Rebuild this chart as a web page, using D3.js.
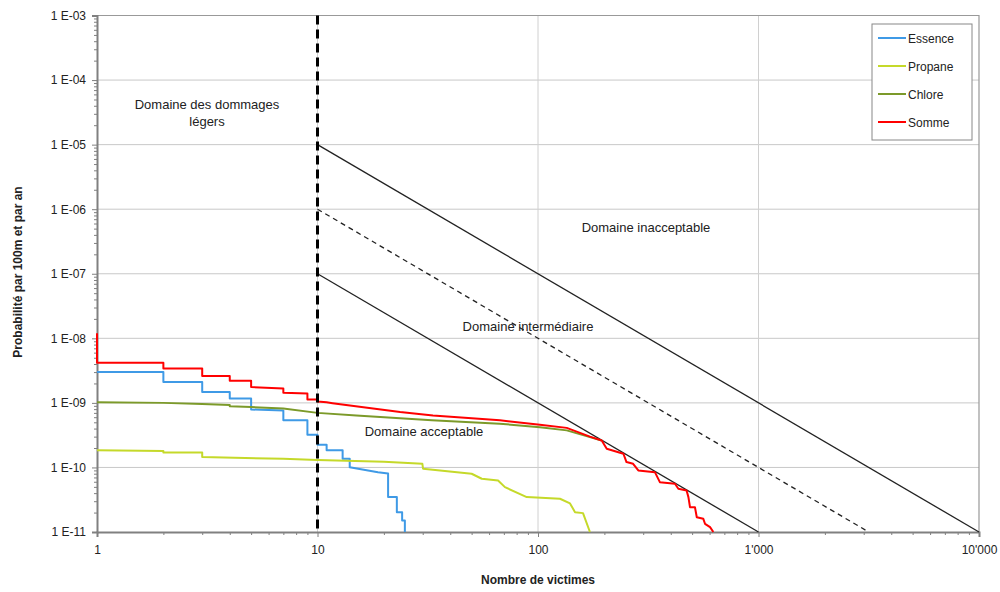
<!DOCTYPE html>
<html>
<head>
<meta charset="utf-8">
<script src="https://cdn.jsdelivr.net/npm/d3@7/dist/d3.min.js"></script>
<style>
  body { margin: 0; background: #fff; }
  svg { font-family: "Liberation Sans", Arial, sans-serif; }
</style>
</head>
<body>
<div id="vis"></div>
<script>
// F-N curve vertices (N = number of victims, F = probability per 100m and year)
var essN = [1, 2, 2, 3, 3, 4, 4, 5, 5, 7, 7, 9, 9, 10, 10, 11, 11, 13, 13, 14, 14, 18.8, 20.9, 20.9, 22.9, 22.9, 24.2, 24.2, 24.9, 24.9];
var essF = [3.0e-9, 3.0e-9, 2.1e-9, 2.1e-9, 1.47e-9, 1.47e-9, 1.17e-9, 1.17e-9, 7.9e-10, 7.6e-10, 5.4e-10, 5.4e-10, 3.2e-10, 3.2e-10,
  2.25e-10, 2.25e-10, 1.84e-10, 1.84e-10, 1.36e-10, 1.36e-10, 1.01e-10, 8.45e-11, 8.07e-11, 3.47e-11, 3.47e-11, 2.03e-11,
  2.03e-11, 1.51e-11, 1.51e-11, 1.0e-11];

var proN = [1, 2, 2, 3, 3, 7, 10, 20, 29.9, 30.1, 50, 55.6, 65.9, 70.8, 88.9, 125.8, 139.7, 147.2, 160, 172];
var proF = [1.84e-10, 1.80e-10, 1.70e-10, 1.70e-10, 1.45e-10, 1.36e-10, 1.30e-10, 1.22e-10, 1.14e-10, 9.55e-11, 7.98e-11,
  6.68e-11, 6.29e-11, 4.95e-11, 3.47e-11, 3.27e-11, 2.77e-11, 2.03e-11, 1.96e-11, 1.0e-11];

var chlN = [1, 2, 3, 4, 4, 5, 7, 10, 15, 33, 67, 102, 135, 172, 194];
var chlF = [1.02e-9, 1.0e-9, 9.6e-10, 9.3e-10, 8.9e-10, 8.6e-10, 8.2e-10, 7.0e-10, 6.4e-10, 5.4e-10, 4.76e-10, 4.2e-10,
  3.75e-10, 2.95e-10, 2.62e-10];

var somN = [1, 1, 2, 2, 3, 3, 4, 4, 5, 5, 7, 7, 9, 9, 10, 10, 11, 11.7, 23.7, 33.4, 67.2, 102, 135, 172, 194.5, 205, 244,
  252, 270, 285, 339, 357, 418, 433, 472, 481, 489, 515, 525, 562, 572, 603, 624];
var somF = [1.2e-8, 4.2e-9, 4.2e-9, 3.4e-9, 3.4e-9, 2.6e-9, 2.6e-9, 2.2e-9, 2.2e-9, 1.76e-9, 1.67e-9, 1.44e-9, 1.40e-9,
  1.13e-9, 1.13e-9, 1.05e-9, 1.02e-9, 9.9e-10, 7.2e-10, 6.4e-10, 5.36e-10, 4.6e-10, 4.1e-10, 3.0e-10, 2.62e-10, 1.95e-10,
  1.63e-10, 1.21e-10, 1.14e-10, 8.98e-11, 8.45e-11, 5.92e-11, 5.59e-11, 4.67e-11, 4.40e-11, 3.47e-11, 2.42e-11, 2.42e-11,
  1.69e-11, 1.60e-11, 1.34e-11, 1.19e-11, 1.0e-11];

var seriesNames = ['Essence', 'Propane', 'Chlore', 'Somme'];
var seriesColors = ['#3f9ae6', '#c5d92a', '#7c9a2a', '#ff0000'];

// risk limit lines (start and end points)
var limitN = [[10, 10000], [10, 3162], [10, 1000]];
var limitF = [[1e-5, 1e-11], [1e-6, 1e-11], [1e-7, 1e-11]];

var xTicks = [1, 10, 100, 1000, 10000];
var xLabels = ['1', '10', '100', "1'000", "10'000"];
var yTicks = [1e-3, 1e-4, 1e-5, 1e-6, 1e-7, 1e-8, 1e-9, 1e-10, 1e-11];
var yLabels = ['1 E-03', '1 E-04', '1 E-05', '1 E-06', '1 E-07', '1 E-08', '1 E-09', '1 E-10', '1 E-11'];

var width = 1000, height = 592;
var margin = { top: 15.5, left: 97, bottom: 60, right: 21 };

var svg = d3.select('#vis').append('svg')
  .attr('width', width)
  .attr('height', height);

var x = d3.scaleLog().domain([1, 10000]).range([margin.left, width - margin.right]);
var y = d3.scaleLog().domain([1e-11, 1e-3]).range([height - margin.bottom, margin.top]);

// minor tick values
var xMinor = [], yMinor = [];
xTicks.slice(0, -1).forEach(function (d) { for (var k = 2; k < 10; k++) xMinor.push(d * k); });
yTicks.slice(1).forEach(function (d) { for (var k = 2; k < 10; k++) yMinor.push(d * k); });

// grid
svg.append('g').selectAll('line')
  .data(yTicks.slice(1, -1))
  .enter().append('line')
  .attr('x1', x(1)).attr('x2', x(10000))
  .attr('y1', function (d) { return y(d); }).attr('y2', function (d) { return y(d); })
  .attr('stroke', '#c8c8c8').attr('stroke-width', 1);

svg.append('g').selectAll('line')
  .data(xTicks.slice(1, -1))
  .enter().append('line')
  .attr('y1', y(1e-3)).attr('y2', y(1e-11))
  .attr('x1', function (d) { return x(d); }).attr('x2', function (d) { return x(d); })
  .attr('stroke', '#d0d0d0').attr('stroke-width', 1);

// plot frame (top, right)
svg.append('path')
  .attr('d', 'M' + x(1) + ',' + y(1e-3) + 'H' + x(10000) + 'V' + y(1e-11))
  .attr('fill', 'none').attr('stroke', '#999').attr('stroke-width', 1.2);

// axes
var yAxis = svg.append('g')
  .attr('transform', 'translate(' + x(1) + ',0)')
  .call(d3.axisLeft(y).tickValues(yTicks).tickSize(5).tickPadding(6)
    .tickFormat(function (d, i) { return yLabels[i]; }));
svg.append('g')
  .attr('transform', 'translate(' + x(1) + ',0)')
  .call(d3.axisLeft(y).tickValues(yMinor).tickSize(3).tickFormat(''))
  .call(function (g) { g.select('.domain').remove(); });

var xAxis = svg.append('g')
  .attr('transform', 'translate(0,' + y(1e-11) + ')')
  .call(d3.axisBottom(x).tickValues(xTicks).tickSize(5).tickPadding(8)
    .tickFormat(function (d, i) { return xLabels[i]; }));
svg.append('g')
  .attr('transform', 'translate(0,' + y(1e-11) + ')')
  .call(d3.axisBottom(x).tickValues(xMinor).tickSize(3).tickFormat(''))
  .call(function (g) { g.select('.domain').remove(); });

svg.selectAll('.domain').attr('stroke', '#808080').attr('stroke-width', 2);
svg.selectAll('.tick line').attr('stroke', '#808080');
svg.selectAll('.tick text').attr('font-size', 12).attr('fill', '#222')
  .attr('font-family', '"Liberation Sans", Arial, sans-serif');

// risk limit lines
svg.append('g').selectAll('line')
  .data(limitN)
  .enter().append('line')
  .attr('x1', function (d) { return x(d[0]); })
  .attr('x2', function (d) { return x(d[1]); })
  .attr('y1', function (d, i) { return y(limitF[i][0]); })
  .attr('y2', function (d, i) { return y(limitF[i][1]); })
  .attr('stroke', '#222')
  .attr('stroke-width', 1.3)
  .attr('stroke-dasharray', function (d, i) { return i === 1 ? '5,4' : null; });

// curves
var line = d3.line()
  .x(function (d) { return x(d[0]); })
  .y(function (d) { return y(d[1]); });

var curves = [[essN, essF], [proN, proF], [chlN, chlF], [somN, somF]];
svg.append('g').selectAll('path')
  .data(curves)
  .enter().append('path')
  .attr('d', function (c) { return line(d3.zip(c[0], c[1])); })
  .attr('fill', 'none')
  .attr('stroke', function (d, i) { return seriesColors[i]; })
  .attr('stroke-width', 2)
  .attr('stroke-linejoin', 'round');

// vertical dashed line at N = 10
svg.append('line')
  .attr('x1', x(10)).attr('x2', x(10))
  .attr('y1', y(1e-3)).attr('y2', y(1e-11))
  .attr('stroke', '#000').attr('stroke-width', 3)
  .attr('stroke-dasharray', '9,5');

// domain labels
var notes = [
  { t: 'Domaine des dommages', x: 207, y: 109 },
  { t: 'légers', x: 207, y: 126 },
  { t: 'Domaine inacceptable', x: 646, y: 232 },
  { t: 'Domaine intermédiaire', x: 528, y: 331 },
  { t: 'Domaine acceptable', x: 424, y: 436 }
];
svg.append('g').selectAll('text')
  .data(notes)
  .enter().append('text')
  .attr('x', function (d) { return d.x; })
  .attr('y', function (d) { return d.y; })
  .attr('text-anchor', 'middle')
  .attr('font-size', 13)
  .attr('fill', '#222')
  .text(function (d) { return d.t; });

// axis titles
svg.append('text')
  .attr('x', 538).attr('y', 584)
  .attr('text-anchor', 'middle')
  .attr('font-size', 12).attr('font-weight', 'bold').attr('fill', '#222')
  .text('Nombre de victimes');

svg.append('text')
  .attr('transform', 'translate(22,272) rotate(-90)')
  .attr('text-anchor', 'middle')
  .attr('font-size', 12).attr('font-weight', 'bold').attr('fill', '#222')
  .text('Probabilité par 100m et par an');

// legend
var legend = svg.append('g').attr('transform', 'translate(872,24)');
legend.append('rect')
  .attr('width', 100).attr('height', 116)
  .attr('fill', '#fff').attr('stroke', '#888').attr('stroke-width', 1);
var items = legend.selectAll('g.item')
  .data(seriesNames)
  .enter().append('g')
  .attr('class', 'item')
  .attr('transform', function (d, i) { return 'translate(0,' + (14 + i * 28) + ')'; });
items.append('line')
  .attr('x1', 6).attr('x2', 34)
  .attr('stroke', function (d, i) { return seriesColors[i]; })
  .attr('stroke-width', 2);
items.append('text')
  .attr('x', 36).attr('y', 4.5)
  .attr('font-size', 12).attr('fill', '#222')
  .text(function (d) { return d; });
</script>
</body>
</html>
